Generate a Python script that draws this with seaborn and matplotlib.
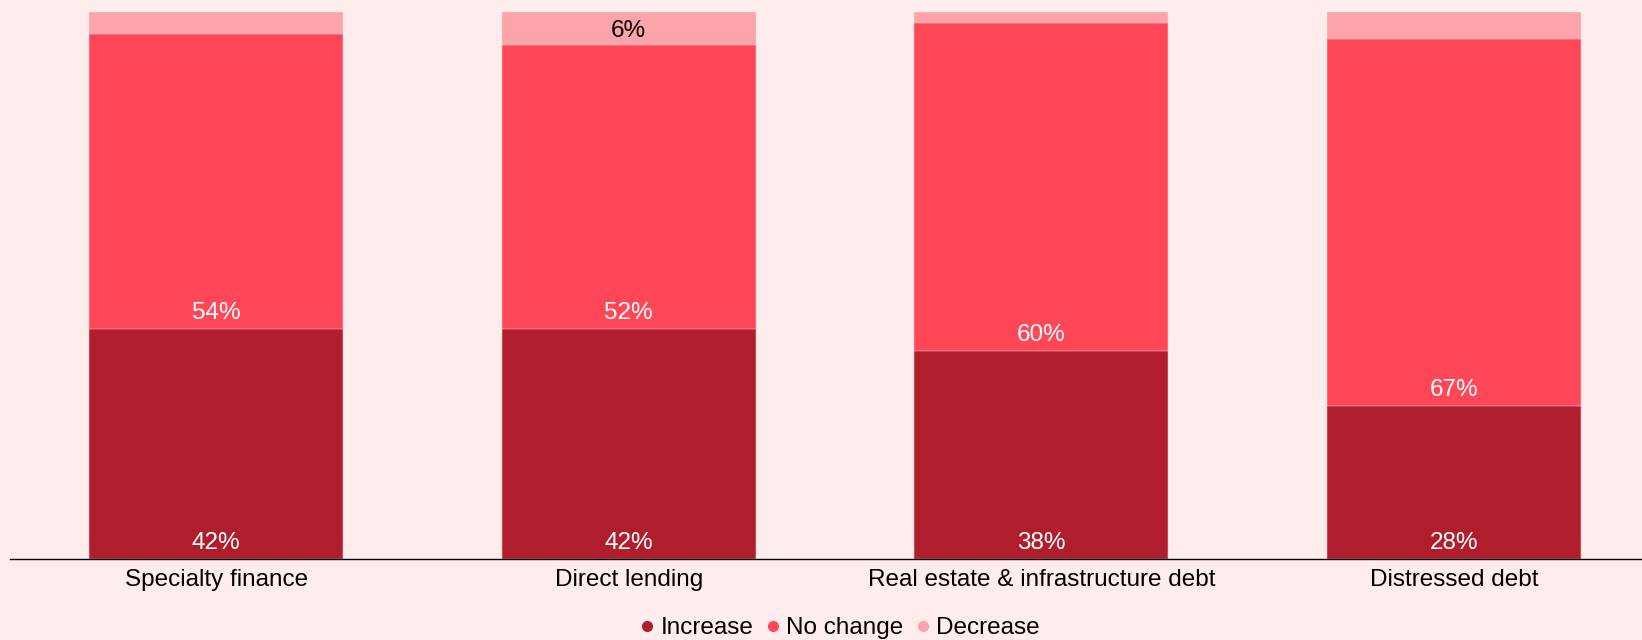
import numpy as np
import matplotlib
matplotlib.use("Agg")
import matplotlib.pyplot as plt
from matplotlib.lines import Line2D
import seaborn as sns
import pandas as pd

# survey answers per strategy (%)
categories = ["Specialty finance", "Direct lending",
              "Real estate & infrastructure debt", "Distressed debt"]
increase = [42, 42, 38, 28]
no_change = [54, 52, 60, 67]
decrease = [4, 6, 2, 5]

series_names = ["Increase", "No change", "Decrease"]
colors = ["#b01e2e", "#ff4757", "#fca4aa"]
bg = "#ffecec"

sns.set_theme(style="white")
plt.rcParams["font.family"] = ["Liberation Sans", "DejaVu Sans"]

df = pd.DataFrame({"category": categories, "Increase": increase,
                   "No change": no_change, "Decrease": decrease})
# cumulative heights so the layers can be overlaid from the top down
df["top_inc"] = df["Increase"]
df["top_nc"] = df["Increase"] + df["No change"]
df["top_dec"] = df["top_nc"] + df["Decrease"]

fig = plt.figure(figsize=(16.42, 6.4), dpi=100, facecolor=bg)
ax = fig.add_axes([10 / 1642, 81 / 640, 1650 / 1642, 547 / 640])
ax.set_facecolor(bg)

for col, c in zip(["top_dec", "top_nc", "top_inc"], colors[::-1]):
    sns.barplot(data=df, x="category", y=col, color=c, width=0.616,
                edgecolor="#ffd6d8", linewidth=0.35, ax=ax, saturation=1)

ax.set_xlim(-0.5, 3.5)
ax.set_ylim(0, 100)
ax.set_xlabel("")
ax.set_ylabel("")
ax.set_yticks([])
for s in ["top", "left", "right"]:
    ax.spines[s].set_visible(False)
ax.spines["bottom"].set_color("black")
ax.spines["bottom"].set_linewidth(1.0)
ax.tick_params(axis="x", length=0, pad=7, labelsize=17.5, colors="black")

fs = 17.5
for i in range(len(categories)):
    ax.annotate(f"{increase[i]}%", (i, 0), xytext=(0, 16), textcoords="offset pixels",
                ha="center", va="center", color="white", fontsize=fs)
    ax.annotate(f"{no_change[i]}%", (i, df["top_inc"][i]), xytext=(0, 16),
                textcoords="offset pixels", ha="center", va="center",
                color="white", fontsize=fs)
    if decrease[i] >= 6:
        ax.annotate(f"{decrease[i]}%", (i, df["top_dec"][i]), xytext=(0, -19),
                    textcoords="offset pixels", ha="center", va="center",
                    color="black", fontsize=fs)

handles = [Line2D([0], [0], marker="o", linestyle="", markersize=7,
                  markerfacecolor=c, markeredgecolor=c) for c in colors]
leg = fig.legend(handles, series_names, loc="center", bbox_to_anchor=(840 / 1642, 12 / 640),
                 ncol=3, frameon=False, fontsize=fs, handlelength=0.6,
                 handletextpad=0.25, columnspacing=0.5, borderpad=0)
for t in leg.get_texts():
    t.set_color("black")

fig.savefig("out.png", dpi=100, facecolor=bg)
